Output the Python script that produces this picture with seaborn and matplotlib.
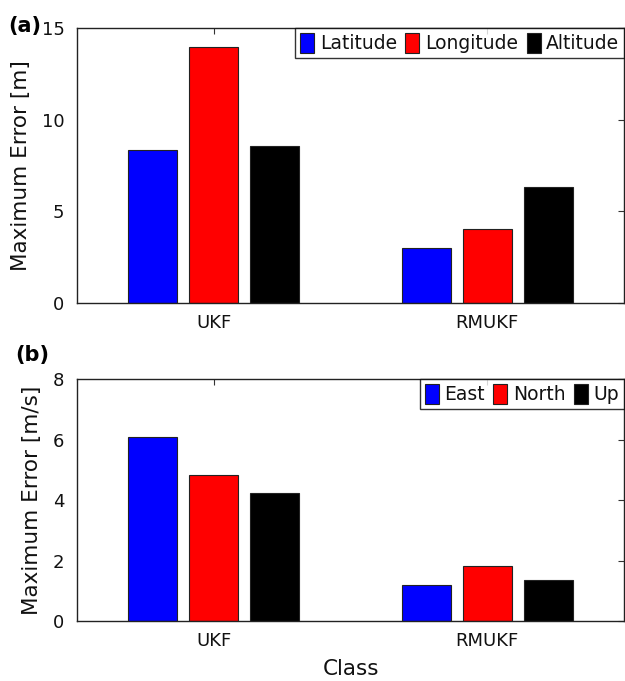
import matplotlib
matplotlib.use("Agg")
import matplotlib.pyplot as plt
import seaborn as sns
import pandas as pd

classes = ["UKF", "RMUKF"]
pos_series = ["Latitude", "Longitude", "Altitude"]
lat_vals = [8.33, 2.98]
lon_vals = [13.98, 4.04]
alt_vals = [8.55, 6.33]

vel_series = ["East", "North", "Up"]
east_vals = [6.10, 1.19]
north_vals = [4.82, 1.82]
up_vals = [4.23, 1.37]

colors = ["#0000ff", "#ff0000", "#000000"]

sns.set_theme(style="white")
plt.rcParams["font.family"] = ["DejaVu Sans"]

def long_df(series_names, series_vals):
    rows = []
    for name, vals in zip(series_names, series_vals):
        for c, v in zip(classes, vals):
            rows.append({"Class": c, "Series": name, "Value": v})
    return pd.DataFrame(rows)

df_pos = long_df(pos_series, [lat_vals, lon_vals, alt_vals])
df_vel = long_df(vel_series, [east_vals, north_vals, up_vals])

fig = plt.figure(figsize=(6.25, 6.81), dpi=100)
ax1 = fig.add_axes([77/625, (681-303)/681, 547/625, 275/681])
ax2 = fig.add_axes([77/625, (681-621.3)/681, 547/625, 242.3/681])

def draw(ax, df, order, ylim, yticks, ylabel):
    sns.barplot(data=df, x="Class", y="Value", hue="Series", order=classes,
                hue_order=order, palette=colors, width=0.67, gap=0.2,
                edgecolor="#222222", linewidth=0.8, saturation=1, ax=ax,
                errorbar=None)
    ax.set_xlim(-0.5, 1.5)
    ax.set_ylim(*ylim)
    ax.set_yticks(yticks)
    ax.set_ylabel(ylabel, fontsize=15.5, labelpad=8, color="#111111")
    ax.tick_params(direction="in", top=True, right=True, length=4,
                   width=0.8, color="#333333", labelsize=13, labelcolor="#111111")
    ax.tick_params(axis="y", pad=9)
    ax.tick_params(axis="x", pad=8)
    for s in ax.spines.values():
        s.set_visible(True)
        s.set_color("#222222")
        s.set_linewidth(1.0)
    leg = ax.legend(loc="upper right", ncol=3, fontsize=13.5, frameon=True,
                    fancybox=False, borderaxespad=0.0, handlelength=0.75,
                    handleheight=1.3, handletextpad=0.3, columnspacing=0.45,
                    borderpad=0.25)
    leg.get_frame().set_edgecolor("#000000")
    leg.get_frame().set_linewidth(1.0)
    for p in leg.get_patches():
        p.set_edgecolor("#222222")
    for t in leg.get_texts():
        t.set_color("#111111")

draw(ax1, df_pos, pos_series, (0, 15), [0, 5, 10, 15], "Maximum Error [m]")
ax1.set_xlabel("")
draw(ax2, df_vel, vel_series, (0, 8), [0, 2, 4, 6, 8], "Maximum Error [m/s]")
ax2.set_xlabel("Class", fontsize=15.5, labelpad=6, color="#111111")

fig.text(8/625, 1-32/681, "(a)", fontsize=15, fontweight="bold", va="baseline", color="#000000")
fig.text(15/625, 1-361/681, "(b)", fontsize=15, fontweight="bold", va="baseline", color="#000000")

fig.savefig("out.png", dpi=100)
